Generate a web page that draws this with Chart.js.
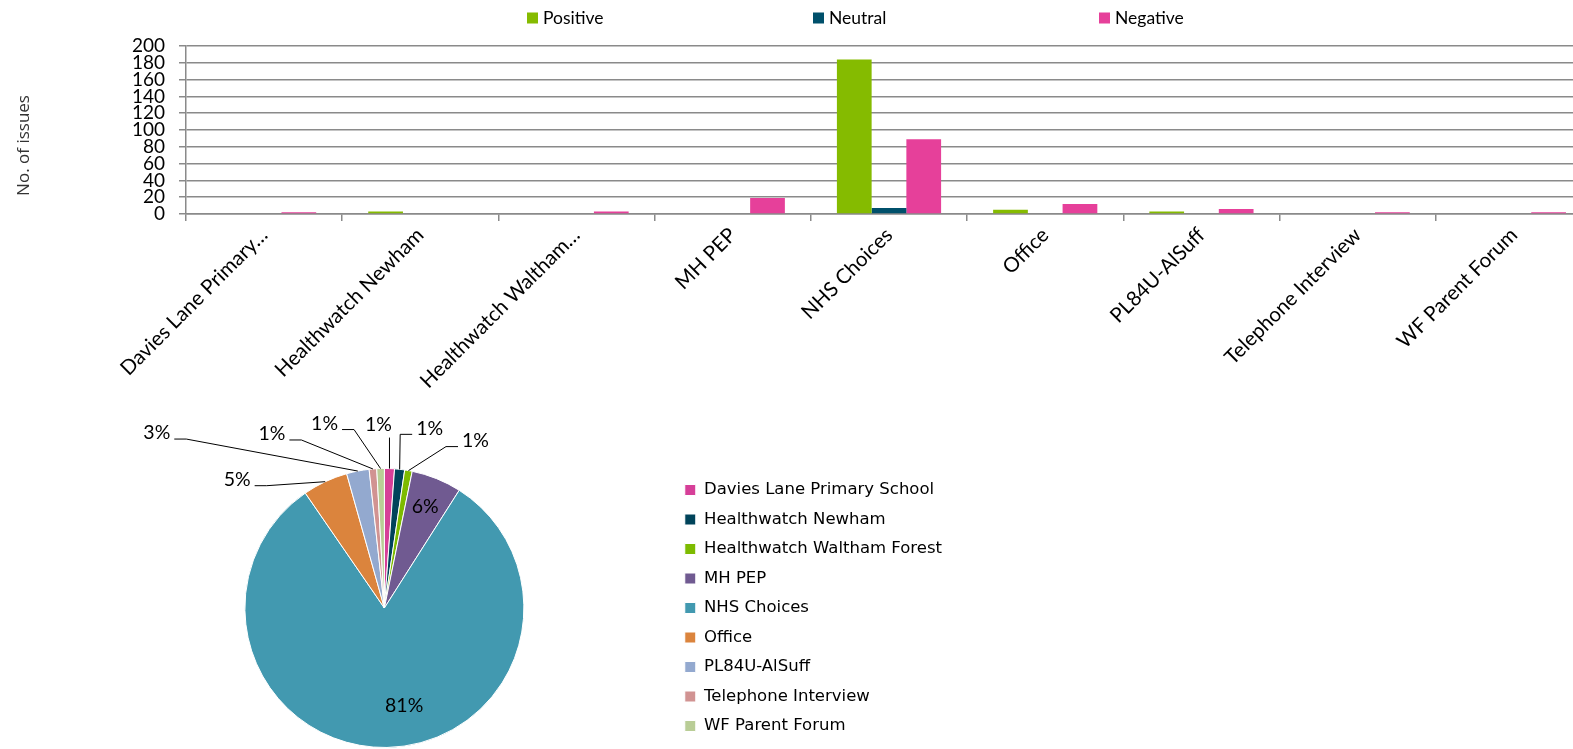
<!DOCTYPE html>
<html><head><meta charset="utf-8">
<script src="https://cdn.jsdelivr.net/npm/chart.js@4"></script>
<style>
html,body{margin:0;padding:0;background:#fff;overflow:hidden;width:1573px;height:749px;}
#bar{position:absolute;left:0;top:0;}
#pie{position:absolute;left:0;top:400px;}
</style></head><body>
<canvas id="bar" width="1600" height="400"></canvas>
<canvas id="pie" width="960" height="349"></canvas>
<script>
// ---- data ----
const categories = ['Davies Lane Primary School','Healthwatch Newham','Healthwatch Waltham Forest','MH PEP','NHS Choices','Office','PL84U-AlSuff','Telephone Interview','WF Parent Forum'];
const xTickLabels = ['Davies Lane Primary…','Healthwatch Newham','Healthwatch Waltham…','MH PEP','NHS Choices','Office','PL84U-AlSuff','Telephone Interview','WF Parent Forum'];
const seriesNames = ['Positive','Neutral','Negative'];
const positive = [1,3,0,1,184,5,3,0,1];
const neutral  = [1,0,0,0,7,0,0,1,0];
const negative = [2,1,3,19,89,12,6,2,2];
const yTickValues = [0,20,40,60,80,100,120,140,160,180,200];
const pieValues = [4,4,3,20,280,18,9,3,3];

// ---- styles ----
const seriesColors = ['#85BB00','#00506B','#E6409A'];
const pieColors = ['#D63F98','#00435A','#7DBB00','#705A91','#4299B0','#DB843D','#93A9CF','#D19392','#B9CD96'];
const gridGrey = '#8a8a8a';
const calibriLike = 'Lato, "Open Sans", sans-serif';

// custom horizontal legend for the bar chart
const barLegend = {
  id: 'barLegend',
  afterDraw(chart) {
    const {ctx, chartArea} = chart;
    const x0 = chartArea.left + 341, step = 286, yc = 18;
    ctx.save();
    ctx.font = '17.5px ' + calibriLike;
    ctx.textBaseline = 'middle';
    ctx.textAlign = 'left';
    chart.data.datasets.forEach((ds, i) => {
      const x = x0 + i * step;
      ctx.fillStyle = ds.backgroundColor;
      ctx.fillRect(x, yc - 5.5, 11, 11);
      ctx.fillStyle = '#000';
      ctx.fillText(ds.label, x + 16, yc);
    });
    ctx.restore();
  }
};

new Chart(document.getElementById('bar'), {
  type: 'bar',
  data: {
    labels: categories,
    datasets: [
      {label: seriesNames[0], data: positive, backgroundColor: seriesColors[0]},
      {label: seriesNames[1], data: neutral, backgroundColor: seriesColors[1]},
      {label: seriesNames[2], data: negative, backgroundColor: seriesColors[2]}
    ]
  },
  options: {
    responsive: false,
    animation: false,
    categoryPercentage: 0.667,
    barPercentage: 1.0,
    layout: {padding: {top: 46, left: 0, right: 8, bottom: 0}},
    plugins: {legend: {display: false}, tooltip: {enabled: false}},
    scales: {
      x: {
        offset: true,
        grid: {display: true, drawOnChartArea: false, drawTicks: true, tickLength: 7, offset: true, color: gridGrey, lineWidth: 1.5},
        border: {display: true, color: gridGrey, width: 1.5},
        ticks: {
          autoSkip: false, minRotation: 45, maxRotation: 45, color: '#000', padding: 2,
          font: {family: calibriLike, size: 20.5},
          callback: (v, i) => xTickLabels[i]
        },
        afterFit: (s) => { s.height = 186; }
      },
      y: {
        min: 0, max: 200,
        afterBuildTicks: (s) => { s.ticks = yTickValues.map(v => ({value: v})); },
        grid: {color: gridGrey, lineWidth: 1.5, tickLength: 7, drawTicks: true},
        border: {display: true, color: gridGrey, width: 1.5},
        ticks: {autoSkip: false, color: '#000', padding: 14, font: {family: calibriLike, size: 19, lineHeight: 1.0}},
        title: {display: true, text: 'No. of issues       ', color: '#333', padding: {top: 14, bottom: 4},
                font: {family: '"Open Sans", sans-serif', size: 17}},
        afterFit: (s) => { s.width = 186; }
      }
    }
  },
  plugins: [barLegend]
});

// ---- pie ----
const pieLabelLayout = [
  {mode: 'up',    dx: -11,  dy: -44},
  {mode: 'right', dx: 30,   dy: -41},
  {mode: 'right', dx: 67,   dy: -30},
  {mode: 'in',    f: 0.78,  dx: 0,  dy: 0},
  {mode: 'in',    f: 0.70,  dx: 18, dy: 0},
  {mode: 'left',  dx: -88,  dy: -2},
  {mode: 'left',  dx: -201, dy: -38},
  {mode: 'left',  dx: -101, dy: -35},
  {mode: 'left',  dx: -56,  dy: -45}
];
const pieLabels = {
  id: 'pieLabels',
  afterDatasetsDraw(chart) {
    const {ctx} = chart;
    const meta = chart.getDatasetMeta(0);
    const vals = chart.data.datasets[0].data;
    const total = vals.reduce((a, b) => a + b, 0);
    ctx.save();
    ctx.font = '19.5px ' + calibriLike;
    ctx.textAlign = 'center';
    ctx.textBaseline = 'middle';
    ctx.fillStyle = '#000';
    ctx.strokeStyle = '#000';
    ctx.lineWidth = 1;
    meta.data.forEach((arc, i) => {
      const p = arc.getProps(['x', 'y', 'startAngle', 'endAngle', 'outerRadius'], true);
      const mid = (p.startAngle + p.endAngle) / 2;
      const txt = Math.round(vals[i] / total * 100) + '%';
      const L = pieLabelLayout[i];
      if (L.mode === 'in') {
        const r = p.outerRadius * L.f;
        ctx.fillText(txt, p.x + Math.cos(mid) * r + L.dx, p.y + Math.sin(mid) * r + L.dy);
        return;
      }
      const ox = p.x + Math.cos(mid) * p.outerRadius;
      const oy = p.y + Math.sin(mid) * p.outerRadius;
      const tx = ox + L.dx, ty = oy + L.dy;
      const w = ctx.measureText(txt).width;
      ctx.beginPath();
      ctx.moveTo(ox, oy);
      if (L.mode === 'up') {
        ctx.lineTo(ox, ty + 13);
      } else if (L.mode === 'left') {
        const ex = tx + w / 2 + 4, ey = ty + 6;
        ctx.lineTo(ex + 12, ey);
        ctx.lineTo(ex, ey);
      } else {
        const ex = tx - w / 2 - 4, ey = ty + 6;
        ctx.lineTo(ex - 12, ey);
        ctx.lineTo(ex, ey);
      }
      ctx.stroke();
      ctx.fillText(txt, tx, ty);
    });
    ctx.restore();
  }
};

const legendFont = {family: '"DejaVu Sans", sans-serif', size: 16.5};
const pieCanvas = document.getElementById('pie');
(function sizePie() {
  const c = pieCanvas.getContext('2d');
  c.font = legendFont.size + 'px ' + legendFont.family;
  const maxW = Math.max(...categories.map(t => c.measureText(t).width));
  const legendW = 13 + 11 + legendFont.size / 2 + maxW + 10;
  pieCanvas.width = Math.ceil(671 + legendW);
})();

new Chart(pieCanvas, {
  type: 'pie',
  data: {
    labels: categories,
    datasets: [{data: pieValues, backgroundColor: pieColors, borderColor: '#ffffff', borderWidth: 1}]
  },
  options: {
    responsive: false,
    animation: false,
    layout: {padding: {left: 97, top: 68, bottom: 1, right: 0}},
    plugins: {
      tooltip: {enabled: false},
      legend: {
        position: 'right', align: 'center',
        labels: {boxWidth: 11, boxHeight: 11, padding: 13, color: '#000', font: legendFont}
      }
    }
  },
  plugins: [pieLabels]
});
</script>
</body></html>
